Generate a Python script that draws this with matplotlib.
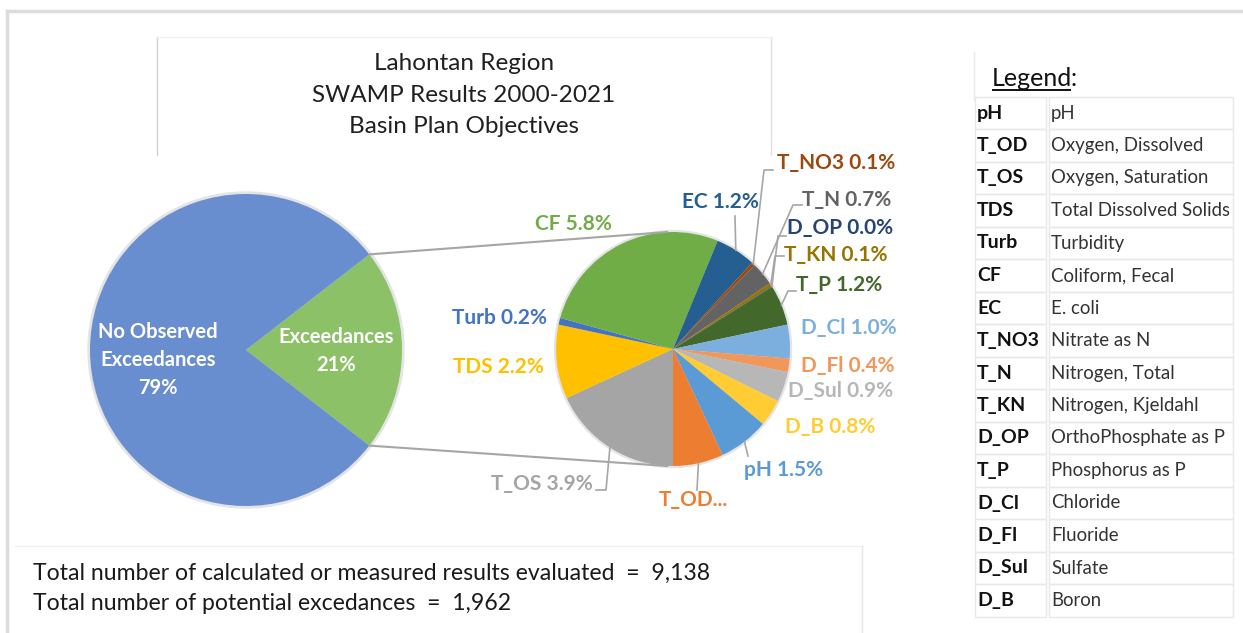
import numpy as np
import matplotlib.pyplot as plt
from matplotlib.patches import Rectangle, Circle

W, H = 1243, 633

# ---- data ----
main_labels = ['Exceedances', 'No Observed\nExceedances']
main_pct = [21, 79]
main_colors = ['#8CC168', '#698ED0']

codes = ['pH', 'T_OD', 'T_OS', 'TDS', 'Turb', 'CF', 'EC', 'T_NO3', 'T_N',
         'T_KN', 'D_OP', 'T_P', 'D_Cl', 'D_Fl', 'D_Sul', 'D_B']
descriptions = ['pH', 'Oxygen, Dissolved', 'Oxygen, Saturation',
                'Total Dissolved Solids', 'Turbidity', 'Coliform, Fecal',
                'E. coli', 'Nitrate as N', 'Nitrogen, Total', 'Nitrogen, Kjeldahl',
                'OrthoPhosphate as P', 'Phosphorus as P', 'Chloride', 'Fluoride',
                'Sulfate', 'Boron']
pct = [1.5, 1.5, 3.9, 2.2, 0.2, 5.8, 1.2, 0.1, 0.7, 0.1, 0.02, 1.2, 1.0, 0.4, 0.9, 0.8]
colors = ['#5B9BD5', '#ED7D31', '#A5A5A5', '#FFC000', '#4472C4', '#70AD47',
          '#255E91', '#9E480E', '#636363', '#997300', '#264478', '#43682B',
          '#7CAFDD', '#F1975A', '#B7B7B7', '#FFCD33']
total_results = 9138
total_exceed = 1962

plt.rcParams['font.family'] = ['Lato', 'DejaVu Sans']

fig = plt.figure(figsize=(W / 100, H / 100), dpi=100)
ax = fig.add_axes([0, 0, 1, 1])


def Y(y):
    return H - y


# ---- main pie ----
c1 = (246, Y(350))
r1 = 156
ax.add_patch(Circle(c1, r1 + 2, color='#E4E4E4', zorder=0))
w1, _ = ax.pie(main_pct, colors=main_colors, startangle=-main_pct[0] * 3.6 / 2,
               center=c1, radius=r1, wedgeprops=dict(linewidth=0), frame=False)

# ---- second pie ----
c2 = (673, Y(349))
r2 = 117
order = list(range(2, len(codes))) + [0, 1]
ax.add_patch(Circle(c2, r2 + 1.5, color='#E4E4E4', zorder=0))
w2, _ = ax.pie([pct[i] for i in order], colors=[colors[i] for i in order],
               startangle=-90, counterclock=False, center=c2, radius=r2,
               wedgeprops=dict(linewidth=0), frame=False)
wedge_of = {codes[i]: w for i, w in zip(order, w2)}

ax.set_xlim(0, W)
ax.set_ylim(0, H)
ax.set_aspect('equal')
ax.axis('off')

# frames
ax.plot([7, W], [Y(11), Y(11)], color='#DCDCDC', lw=2.5)
ax.plot([7, 7], [Y(11), 0], color='#DCDCDC', lw=2.5)
ax.plot([157, 157], [Y(37), Y(155)], color='#D0D0D0', lw=1)
ax.plot([771, 771], [Y(37), Y(155)], color='#E0E0E0', lw=1)
ax.plot([157, 771], [Y(37), Y(37)], color='#F2F2F2', lw=1)
ax.plot([15, 862], [Y(546), Y(546)], color='#F0F0F0', lw=1)
ax.plot([862, 862], [Y(546), 0], color='#E6E6E6', lw=1)
ax.plot([974, 974], [Y(52), Y(100)], color='#EAEAEA', lw=1)

# title
ax.text(464, Y(95), 'Lahontan Region\nSWAMP Results 2000-2021\nBasin Plan Objectives',
        ha='center', va='center', fontsize=17.5, linespacing=1.62, color='#202020')

ax.text(336, Y(351), 'Exceedances\n%d%%' % main_pct[0], ha='center', va='center',
        color='white', fontsize=14.5, fontweight='bold', linespacing=1.5)
ax.text(158, Y(360), 'No Observed\nExceedances\n%d%%' % main_pct[1], ha='center',
        va='center', color='white', fontsize=14.5, fontweight='bold', linespacing=1.5)

# connector lines
ex = w1[0]
for th, ty in [(ex.theta2, c2[1] + r2), (ex.theta1, c2[1] - r2)]:
    p = (c1[0] + r1 * np.cos(np.radians(th)), c1[1] + r1 * np.sin(np.radians(th)))
    ax.plot([p[0], c2[0] - 6], [p[1], ty], color='#A6A6A6', lw=1.5, zorder=1)

# label layout: x, y (image px), ha, leader points near label
layout = {
    'CF': (612, 224, 'right', []),
    'EC': (720, 202, 'center', [(735, 216)]),
    'T_NO3': (777, 163, 'left', [(764, 170), (773, 170)]),
    'T_N': (802, 200, 'left', [(793, 205), (802, 205)]),
    'D_OP': (787, 228, 'left', [(778, 236), (786, 236)]),
    'T_KN': (784, 255, 'left', [(775, 256), (784, 256)]),
    'T_P': (796, 285, 'left', [(788, 291), (796, 291)]),
    'D_Cl': (801, 328, 'left', []),
    'D_Fl': (801, 366, 'left', []),
    'D_Sul': (788, 391, 'left', []),
    'D_B': (785, 427, 'left', []),
    'pH': (744, 470, 'left', [(748, 456)]),
    'T_OD': (659, 500, 'left', [(697, 490)]),
    'T_OS': (593, 484, 'right', [(606, 490), (596, 490)]),
    'TDS': (544, 367, 'right', []),
    'Turb': (547, 318, 'right', []),
}
for i, code in enumerate(codes):
    x, y, ha, pts = layout[code]
    w = wedge_of[code]
    txt = 'T_OD...' if code == 'T_OD' else '%s %.1f%%' % (code, pct[i])
    ax.text(x, Y(y), txt, ha=ha, va='center', color=colors[i], fontsize=15,
            fontweight='bold')
    if pts:
        mid = np.radians((w.theta1 + w.theta2) / 2)
        xs = [c2[0] + r2 * np.cos(mid)] + [p[0] for p in pts]
        ys = [c2[1] + r2 * np.sin(mid)] + [Y(p[1]) for p in pts]
        ax.plot(xs, ys, color='#A6A6A6', lw=1.2, zorder=3)

# totals
ax.text(33, Y(573), 'Total number of calculated or measured results evaluated  =  {:,}'.format(total_results),
        ha='left', va='center', fontsize=16.6, color='#1A1A1A')
ax.text(33, Y(603), 'Total number of potential excedances  =  {:,}'.format(total_exceed),
        ha='left', va='center', fontsize=16.6, color='#1A1A1A')

# ---- legend table ----
leg = ax.text(992, Y(78), 'Legend', ha='left', va='center', fontsize=18, color='#111111')
fig.canvas.draw()
bb = leg.get_window_extent().transformed(ax.transData.inverted())
ax.text(bb.x1 - 2, Y(78), ':', ha='left', va='center', fontsize=18, color='#111111')
ax.plot([bb.x0 + 1, bb.x1 - 2], [Y(90), Y(90)], color='#111111', lw=1.4)

row0, dy = 113, 32.5
for k, (code, desc) in enumerate(zip(codes, descriptions)):
    yc = row0 + k * dy
    ax.add_patch(Rectangle((975, Y(yc + dy / 2)), 71, dy, fill=False,
                           edgecolor='#E8E8E8', lw=1))
    ax.add_patch(Rectangle((1049, Y(yc + dy / 2)), 184, dy, fill=False,
                           edgecolor='#E8E8E8', lw=1))
    ax.text(977, Y(yc), code, ha='left', va='center', fontsize=14,
            fontweight='bold', color='#111111')
    ax.text(1051, Y(yc), desc, ha='left', va='center', fontsize=13.4, color='#333333')

fig.savefig('out.png', dpi=100, facecolor='white')
